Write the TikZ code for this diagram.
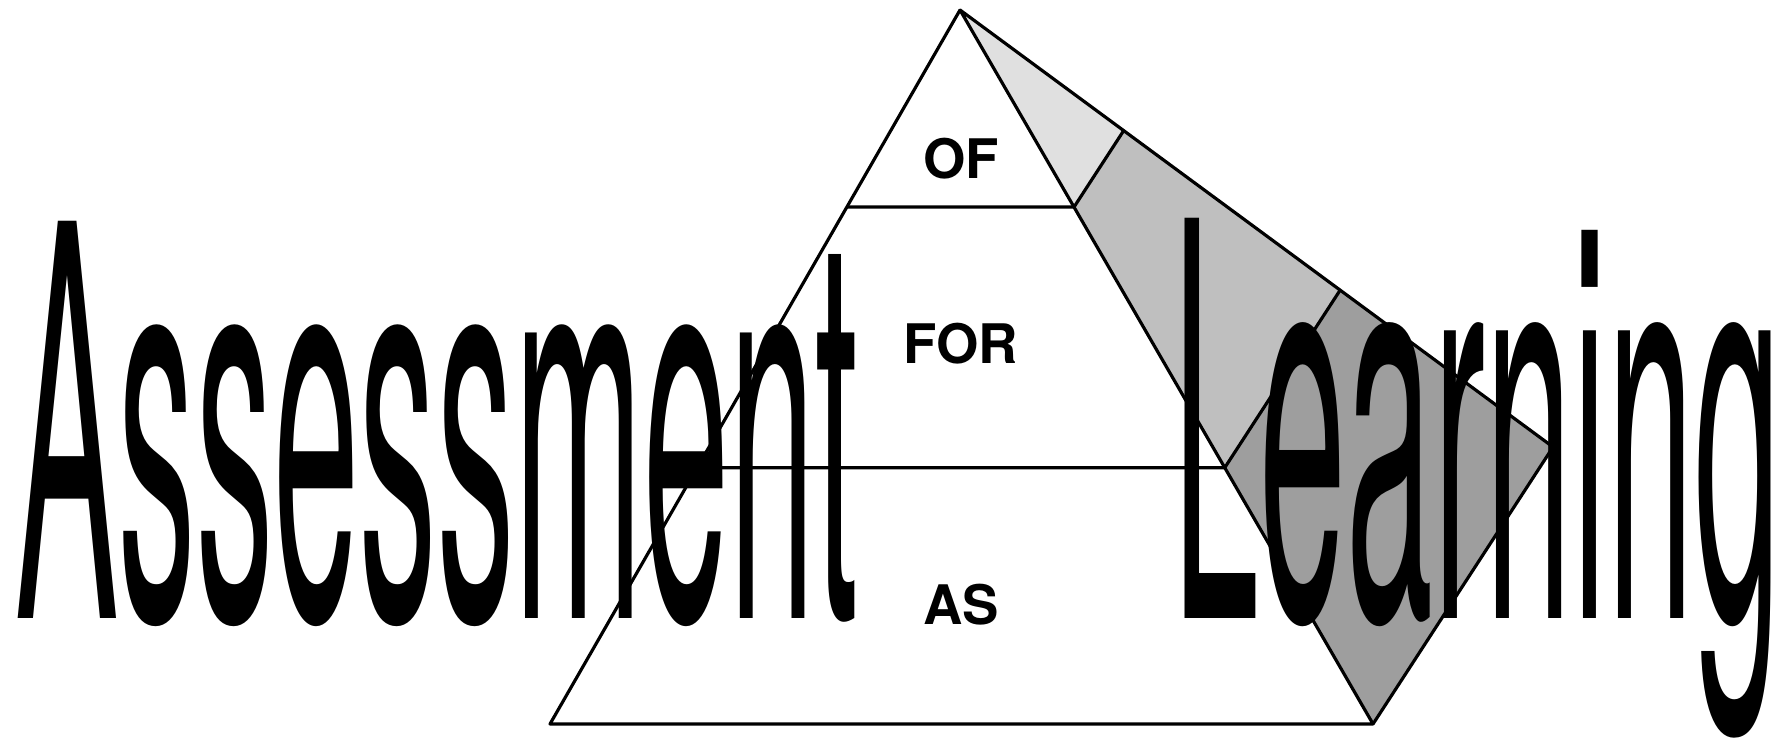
\documentclass[tikz,border=0pt]{standalone}
\usepackage{fontspec}
\setmainfont{TeX Gyre Heros}
\usepackage{graphicx}
\usetikzlibrary{calc}
\usetikzlibrary{backgrounds}

\begin{document}
\begin{tikzpicture}[x=0.01cm,y=-0.01cm,
    edge/.style={black,line width=0.9pt,line join=round},
    level/.style={font=\bfseries\fontsize{15.5}{18}\selectfont, inner sep=0pt},
    bigword/.style={anchor=base west, inner sep=0pt}]
    \useasboundingbox (0,0) rectangle (1780,740);
    \coordinate (top) at (960,10);
    \coordinate (bl) at (550,724);
    \coordinate (br) at (1373,724);
    \coordinate (back) at (1553,447);
    % cuts between the levels
    \coordinate (l1) at ($(top)!0.276!(bl)$);
    \coordinate (r1) at ($(top)!0.276!(br)$);
    \coordinate (b1) at ($(top)!0.276!(back)$);
    \coordinate (l2) at ($(top)!0.641!(bl)$);
    \coordinate (r2) at ($(top)!0.641!(br)$);
    \coordinate (b2) at ($(top)!0.641!(back)$);
    \begin{scope}[on background layer]
    \fill[black!12] (top) -- (r1) -- (b1) -- cycle;
    \fill[black!25] (r1) -- (r2) -- (b2) -- (b1) -- cycle;
    \fill[black!38] (r2) -- (br) -- (back) -- (b2) -- cycle;
    \end{scope}
    \draw[edge] (top) -- (bl) -- (br) -- (top) -- (back) -- (br);
    \draw[edge] (l1) -- (r1) -- (b1);
    \draw[edge] (l2) -- (r2) -- (b2);
    \node[level] (of) at (961,159) {OF};
    \node[level] (for) at (961,344) {FOR};
    \node[level] (as) at (961,605) {AS};
    \node[bigword] (assess) at (15,618) {\resizebox{8.42cm}{3.97cm}{Assessment}};
    \node[bigword] (learn) at (1172,618) {\resizebox{6.08cm}{4.0cm}{Learning}};
\end{tikzpicture}
\end{document}
